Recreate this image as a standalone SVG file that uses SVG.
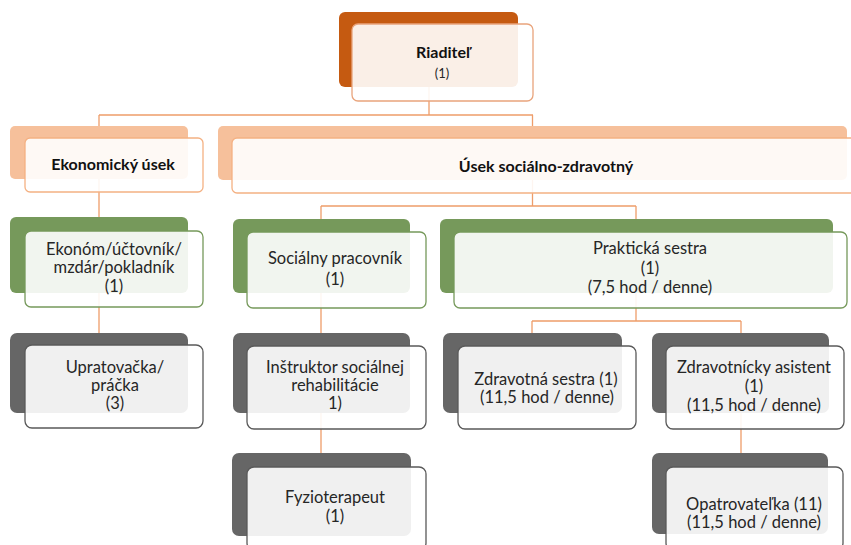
<svg xmlns="http://www.w3.org/2000/svg" width="851" height="545" viewBox="0 0 851 545">
<style>
.bk{stroke:none}
.fr{fill:#ffffff;fill-opacity:0.9;stroke-width:1.3}
.o1 .bk{fill:#c55a11}
.o1 .fr{stroke:#e9a47c}
.o2 .bk{fill:#f6c09b}
.o2 .fr{stroke:#f4b183}
.g .bk{fill:#76995b}
.g .fr{stroke:#76995b}
.k .bk{fill:#666666}
.k .fr{stroke:#595959}
text{font-family:Lato,"Liberation Sans",sans-serif;font-size:16.5px;fill:#262626;text-anchor:middle}
.b{font-weight:bold;font-size:16px;fill:#111111}
.s{font-size:13px}
.c{fill:none;stroke:#ee9d6a;stroke-width:1.3}
</style>
<rect width="851" height="545" fill="#ffffff"/>
<g id="connectors" class="c">
<path d="M429 60V115M99 115H533M99 115V345M532.5 115V206M321 206H636M321 206V467M636 206V321M532 321H741M532 321V346M741 321V467"/>
</g>
<g id="n-riaditel" class="o1">
<rect class="bk" x="339" y="12" width="179" height="75" rx="6"/>
<rect class="fr" x="352" y="24" width="181" height="77" rx="6"/>
<text class="b" x="443" y="58">Riaditeľ</text>
<text class="s" x="442" y="78">(1)</text>
</g>
<g id="n-ekonomicky" class="o2">
<rect class="bk" x="10" y="126" width="178" height="53" rx="5"/>
<rect class="fr" x="25" y="138" width="178" height="54" rx="5"/>
<text class="b" x="113" y="170">Ekonomický úsek</text>
</g>
<g id="n-usek" class="o2">
<rect class="bk" x="218" y="126" width="629" height="54" rx="5"/>
<rect class="fr" x="232" y="138" width="629" height="55" rx="5"/>
<text class="b" x="546" y="172">Úsek sociálno-zdravotný</text>
</g>
<g id="n-ekonom" class="g">
<rect class="bk" x="10" y="217" width="178" height="76" rx="6"/>
<rect class="fr" x="25" y="231" width="178" height="76" rx="6"/>
<text x="114" y="255">Ekonóm/účtovník/</text>
<text x="114" y="273">mzdár/pokladník</text>
<text x="114" y="292">(1)</text>
</g>
<g id="n-socialny" class="g">
<rect class="bk" x="233" y="219" width="177" height="74" rx="6"/>
<rect class="fr" x="247" y="232" width="179" height="76" rx="6"/>
<text x="335" y="264">Sociálny pracovník</text>
<text x="335" y="285">(1)</text>
</g>
<g id="n-prakticka" class="g">
<rect class="bk" x="440" y="219" width="393" height="74" rx="6"/>
<rect class="fr" x="454" y="232" width="393" height="76" rx="6"/>
<text x="650" y="254">Praktická sestra</text>
<text x="650" y="274">(1)</text>
<text x="650" y="293">(7,5 hod / denne)</text>
</g>
<g id="n-upratovacka" class="k">
<rect class="bk" x="10" y="333" width="178" height="80" rx="7"/>
<rect class="fr" x="25" y="345" width="178" height="83" rx="7"/>
<text x="115" y="373">Upratovačka/</text>
<text x="115" y="391">práčka</text>
<text x="115" y="409">(3)</text>
</g>
<g id="n-instruktor" class="k">
<rect class="bk" x="233" y="333" width="177" height="80" rx="7"/>
<rect class="fr" x="247" y="346" width="179" height="83" rx="7"/>
<text x="335" y="373">Inštruktor sociálnej</text>
<text x="335" y="391">rehabilitácie</text>
<text x="335" y="409">1)</text>
</g>
<g id="n-zdravotna" class="k">
<rect class="bk" x="443" y="333" width="179" height="80" rx="7"/>
<rect class="fr" x="458" y="346" width="178" height="83" rx="7"/>
<text x="546" y="385">Zdravotná sestra (1)</text>
<text x="547" y="403">(11,5 hod / denne)</text>
</g>
<g id="n-zdravotnicky" class="k">
<rect class="bk" x="652" y="333" width="177" height="80" rx="7"/>
<rect class="fr" x="666" y="346" width="178" height="83" rx="7"/>
<text x="754" y="373">Zdravotnícky asistent</text>
<text x="754" y="392">(1)</text>
<text x="754" y="411">(11,5 hod / denne)</text>
</g>
<g id="n-fyzio" class="k">
<rect class="bk" x="232" y="453" width="179" height="83" rx="7"/>
<rect class="fr" x="247" y="467" width="179" height="83" rx="7"/>
<text x="335" y="503">Fyzioterapeut</text>
<text x="335" y="522">(1)</text>
</g>
<g id="n-opatrovatelka" class="k">
<rect class="bk" x="652" y="453" width="176" height="81" rx="7"/>
<rect class="fr" x="666" y="467" width="177" height="83" rx="7"/>
<text x="754" y="510">Opatrovateľka (11)</text>
<text x="754" y="528">(11,5 hod / denne)</text>
</g>
</svg>
